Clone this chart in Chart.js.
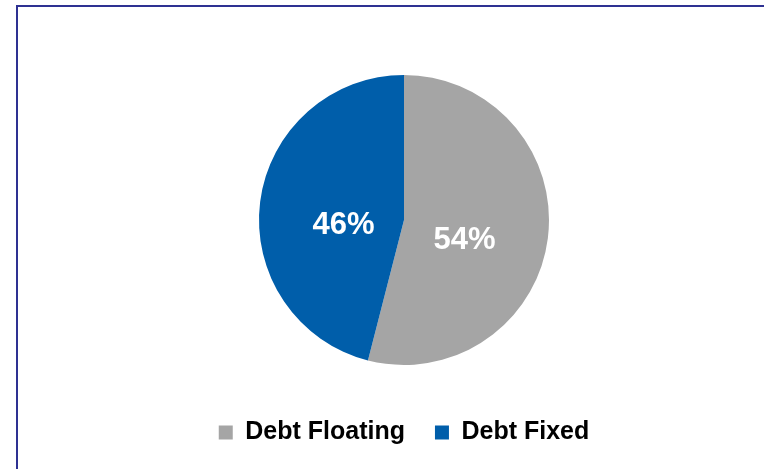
<!DOCTYPE html>
<html>
<head>
<meta charset="utf-8">
<script src="https://cdn.jsdelivr.net/npm/chart.js@4/dist/chart.umd.min.js"></script>
<style>
  html, body { margin: 0; padding: 0; background: #fff; }
  #wrap { position: relative; width: 764px; height: 469px; overflow: hidden; }
  #frame {
    position: absolute; left: 16px; top: 5px; right: -10px; bottom: -10px;
    border-left: 2px solid #2E3192; border-top: 2px solid #2E3192;
  }
  #debtChart { position: absolute; left: 0; top: 0; }
</style>
</head>
<body>
<div id="wrap">
  <div id="frame"></div>
  <canvas id="debtChart" width="764" height="469"></canvas>
</div>
<script>
const labels = ["Debt Floating", "Debt Fixed"];
const shares = [54, 46];
const colors = ["#A5A5A5", "#005EAA"];

// white percentage text inside each slice
const sliceLabels = {
  id: "sliceLabels",
  afterDatasetsDraw(chart) {
    const ctx = chart.ctx;
    const meta = chart.getDatasetMeta(0);
    ctx.save();
    ctx.fillStyle = "#fff";
    ctx.font = "bold 31px 'Liberation Sans', Arial, sans-serif";
    ctx.textAlign = "center";
    ctx.textBaseline = "middle";
    meta.data.forEach((arc, i) => {
      const p = arc.getProps(["x", "y", "startAngle", "endAngle", "outerRadius"], true);
      const mid = (p.startAngle + p.endAngle) / 2;
      const r = p.outerRadius * 0.42;
      ctx.fillText(shares[i] + "%", p.x + Math.cos(mid) * r, p.y + Math.sin(mid) * r + 13);
    });
    ctx.restore();
  },
};

const config = {
  type: "pie",
  data: {
    labels: labels,
    datasets: [
      {
        data: shares,
        backgroundColor: colors,
        borderWidth: 0,
        radius: 145,
      },
    ],
  },
  options: {
    responsive: false,
    animation: false,
    layout: {
      padding: { left: 44, right: 0, top: 50, bottom: 14 },
    },
    plugins: {
      tooltip: { enabled: false },
      legend: {
        position: "bottom",
        labels: {
          boxWidth: 14,
          boxHeight: 14,
          padding: 30,
          color: "#000",
          font: { family: "'Liberation Sans', Arial, sans-serif", size: 25, weight: "bold" },
        },
      },
    },
  },
  plugins: [sliceLabels],
};

new Chart(document.getElementById("debtChart"), config);
</script>
</body>
</html>
